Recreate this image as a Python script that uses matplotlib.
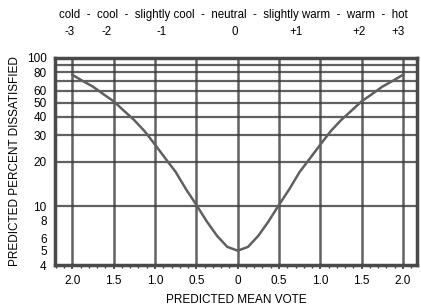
import matplotlib
matplotlib.use("Agg")
import matplotlib.pyplot as plt
from matplotlib.ticker import FixedLocator, NullFormatter

plt.rcParams['font.family'] = ['Liberation Sans', 'DejaVu Sans']

# predicted mean vote (distance from neutral, shown unsigned) vs predicted percent dissatisfied
pmv = [-2.0, -1.875, -1.75, -1.625, -1.5, -1.375, -1.25, -1.125, -1.0, -0.875, -0.75, -0.625, -0.5,
       -0.375, -0.25, -0.125, 0.0, 0.125, 0.25, 0.375, 0.5, 0.625, 0.75, 0.875, 1.0, 1.125, 1.25,
       1.375, 1.5, 1.625, 1.75, 1.875, 2.0]
ppd = [77, 70, 64, 57, 51, 44, 38, 32, 26, 21, 17, 13, 10.2,
       7.9, 6.3, 5.3, 5.0, 5.3, 6.3, 7.9, 10.2, 13, 17, 21, 26, 32, 38,
       44, 51, 57, 64, 70, 77]

x_ticks = [-2.0, -1.5, -1.0, -0.5, 0.0, 0.5, 1.0, 1.5, 2.0]
x_labels = ['2.0', '1.5', '1.0', '0.5', '0', '0.5', '1.0', '1.5', '2.0']
y_ticks = [4, 5, 6, 8, 10, 20, 30, 40, 50, 60, 80, 100]
y_grid = [10, 20, 30, 40, 50, 60, 70, 80, 90, 100]

scale_words = 'cold  -  cool  -  slightly cool  -  neutral  -  slightly warm  -  warm  -  hot'
scale_nums = ['-3', '-2', '-1', '0', '+1', '+2', '+3']
scale_pos = [70, 107, 162, 235, 296, 359, 398]   # pixel centres in the original

W, H = 421, 307
fig = plt.figure(figsize=(W / 100, H / 100), dpi=100)
ax = fig.add_axes([55 / W, 1 - 265 / H, (417 - 55) / W, (265 - 58) / H])

ax.set_yscale('log')
ax.set_xlim(-2.21, 2.17)
ax.set_ylim(4, 100)

gc = '#3a3a3a'
for v in x_ticks:
    ax.axvline(v, color=gc, lw=1.8, alpha=0.8, zorder=1)
for v in y_grid:
    ax.axhline(v, color=gc, lw=1.6, alpha=0.8, zorder=1)

ax.plot(pmv, ppd, color='#606060', lw=1.8, zorder=3)

ax.xaxis.set_major_locator(FixedLocator(x_ticks))
ax.set_xticklabels(x_labels)
ax.xaxis.set_minor_locator(FixedLocator([i / 10 for i in range(-22, 22)]))
ax.yaxis.set_major_locator(FixedLocator(y_ticks))
ax.set_yticklabels([str(v) for v in y_ticks])
ax.yaxis.set_minor_locator(FixedLocator([]))
ax.yaxis.set_minor_formatter(NullFormatter())

ax.tick_params(axis='x', which='major', length=3, width=1.2, color=gc, labelsize=8.5, pad=4)
ax.tick_params(axis='x', which='minor', length=2.5, width=1.0, color=gc)
ax.tick_params(axis='y', which='both', length=0, labelsize=8.5, pad=6)

for s in ax.spines.values():
    s.set_color('#4a4a4a')
    s.set_linewidth(2.5)

ax.set_xlabel('PREDICTED MEAN VOTE', fontsize=8.5, labelpad=5)
ax.set_ylabel('PREDICTED PERCENT DISSATISFIED', fontsize=8.5, labelpad=4)

fig.text(233 / W, 1 - 15 / H, scale_words, ha='center', va='center', fontsize=8.3)
for lab, px in zip(scale_nums, scale_pos):
    fig.text(px / W, 1 - 32 / H, lab, ha='center', va='center', fontsize=8.3)

fig.savefig('out.png', dpi=100)
